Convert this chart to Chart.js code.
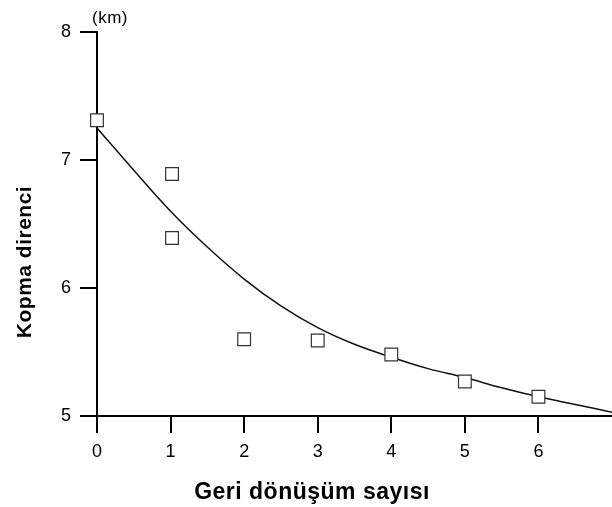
<!DOCTYPE html>
<html>
<head>
<meta charset="utf-8">
<script src="https://cdn.jsdelivr.net/npm/chart.js@4"></script>
<style>
  html, body { margin: 0; padding: 0; background: #fff; }
  #wrap { width: 612px; height: 507px; }
</style>
</head>
<body>
<div id="wrap"><canvas id="myChart" width="612" height="507"></canvas></div>
<script>
// Ölçülen noktalar
const olcumX = [0, 1.02, 1.02, 2, 3, 4, 5, 6];
const olcumY = [7.31, 6.89, 6.39, 5.6, 5.59, 5.48, 5.27, 5.15];

// Eğri
const egriX = [0, 0.5, 1, 1.5, 2, 2.5, 3, 3.5, 4, 4.5, 5, 5.5, 6, 6.5, 7];
const egriY = [7.25, 6.92, 6.6, 6.32, 6.07, 5.86, 5.69, 5.56, 5.46, 5.37, 5.3, 5.22, 5.15, 5.09, 5.03];

const xTicks = [0, 1, 2, 3, 4, 5, 6];
const yTicks = [5, 6, 7, 8];

const xBaslik = 'Geri dönüşüm sayısı';
const yBaslik = 'Kopma direnci';
const birim = '(km)';

const FONT = '"Liberation Sans", Arial, sans-serif';

// Eksen başlıkları
const basliklar = {
  id: 'basliklar',
  afterDraw(chart) {
    const ctx = chart.ctx;
    ctx.save();
    ctx.fillStyle = '#000';
    ctx.textAlign = 'center';
    ctx.textBaseline = 'middle';
    ctx.font = 'bold 23px ' + FONT;
    ctx.letterSpacing = '0.5px';
    ctx.fillText(xBaslik, 312, 493);
    ctx.font = '17px ' + FONT;
    ctx.letterSpacing = '0.5px';
    ctx.fillText(birim, 110, 18);
    ctx.translate(25, 262);
    ctx.rotate(-Math.PI / 2);
    ctx.font = 'bold 21px ' + FONT;
    ctx.letterSpacing = '0.5px';
    ctx.fillText(yBaslik, 0, 0);
    ctx.restore();
  }
};

const data = {
  datasets: [
    {
      label: 'ölçüm',
      data: olcumX.map((x, i) => ({ x: x, y: olcumY[i] })),
      showLine: false,
      clip: false,
      pointStyle: 'rect',
      pointRadius: 9,
      pointBorderWidth: 1.2,
      pointBorderColor: '#333',
      pointBackgroundColor: '#fff',
      order: 1
    },
    {
      label: 'eğri',
      data: egriX.map((x, i) => ({ x: x, y: egriY[i] })),
      showLine: true,
      borderColor: '#111',
      borderWidth: 1.5,
      pointRadius: 0,
      tension: 0.4,
      order: 2
    }
  ]
};

const config = {
  type: 'scatter',
  data: data,
  options: {
    responsive: false,
    animation: false,
    layout: { autoPadding: false, padding: { top: 32, right: 0, left: 0, bottom: 0 } },
    plugins: { legend: { display: false }, tooltip: { enabled: false } },
    scales: {
      x: {
        type: 'linear',
        min: 0,
        max: 7,
        afterBuildTicks: axis => { axis.ticks = xTicks.map(v => ({ value: v })); },
        afterFit: axis => { axis.height = 91; },
        grid: { drawOnChartArea: false, drawTicks: true, tickLength: 17, color: '#000', lineWidth: 2 },
        border: { display: true, color: '#000', width: 2 },
        ticks: { color: '#000', padding: 8, font: { family: FONT, size: 18 } }
      },
      y: {
        type: 'linear',
        min: 5,
        max: 8,
        afterBuildTicks: axis => { axis.ticks = yTicks.map(v => ({ value: v })); },
        afterFit: axis => { axis.width = 97; },
        grid: { drawOnChartArea: false, drawTicks: true, tickLength: 17, color: '#000', lineWidth: 2 },
        border: { display: true, color: '#000', width: 2 },
        ticks: { color: '#000', padding: 9, font: { family: FONT, size: 18 } }
      }
    }
  },
  plugins: [basliklar]
};

// Grafiği oluştur
const myChart = new Chart(document.getElementById('myChart'), config);
</script>
</body>
</html>
